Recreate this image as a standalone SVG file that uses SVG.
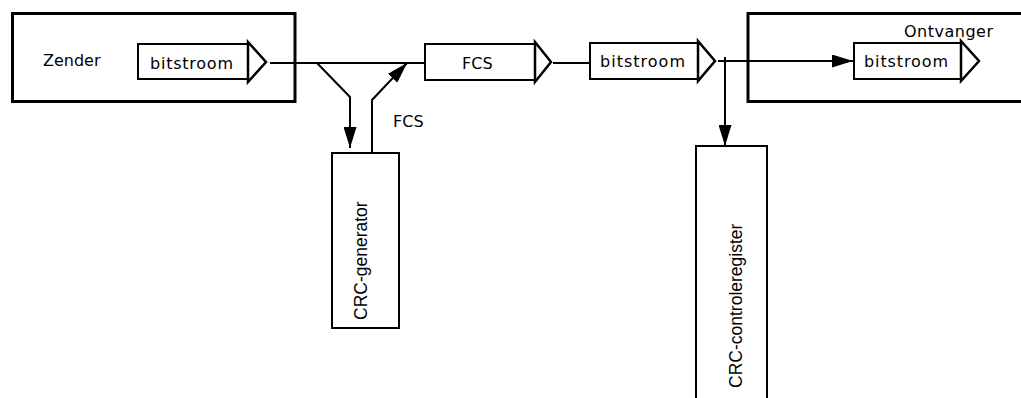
<svg xmlns="http://www.w3.org/2000/svg" width="1021" height="398" viewBox="0 0 1021 398">
  <style>
    .frame { fill: #fff; stroke: #000; stroke-width: 3; }
    .box { fill: #fff; stroke: #000; stroke-width: 2; }
    .chev { fill: #fff; stroke: #000; stroke-width: 2.5; stroke-linejoin: miter; }
    .wire { fill: none; stroke: #000; stroke-width: 2; }
    .lbl { font-family: "DejaVu Sans", Verdana, sans-serif; font-size: 16px; fill: #000; }
    .vlbl { font-family: "Liberation Sans", Arial, sans-serif; font-size: 17.5px; fill: #000; }
  </style>
  <defs>
    <marker id="arrow" viewBox="0 0 21 13" refX="21" refY="6.5" markerWidth="21" markerHeight="13" markerUnits="userSpaceOnUse" orient="auto">
      <path d="M0,0 L21,6.5 L0,13 Z" fill="#000"/>
    </marker>
  </defs>

  <rect width="1021" height="398" fill="#fff"/>

  <!-- sender -->
  <g id="zender">
    <rect class="frame" x="12.5" y="13.5" width="282.5" height="88"/>
    <text class="lbl" x="43" y="66">Zender</text>
    <g id="zender-bitstroom">
      <rect class="box" x="138" y="44" width="110" height="35"/>
      <polygon class="chev" points="248,42 266,62 248,82"/>
      <text class="lbl" x="150" y="69" textLength="83" lengthAdjust="spacing">bitstroom</text>
    </g>
  </g>

  <!-- receiver (frame runs off the right edge) -->
  <g id="ontvanger">
    <rect class="frame" x="748" y="13.5" width="290" height="88"/>
    <text class="lbl" x="904" y="37" textLength="89" lengthAdjust="spacing">Ontvanger</text>
    <g id="ontvanger-bitstroom">
      <rect class="box" x="854" y="43" width="107" height="36"/>
      <polygon class="chev" points="961,41 979,61 961,81"/>
      <text class="lbl" x="864" y="67" textLength="84" lengthAdjust="spacing">bitstroom</text>
    </g>
  </g>

  <g id="fcs">
    <rect class="box" x="425" y="44" width="110" height="36"/>
    <polygon class="chev" points="535,42 551,62 535,82"/>
    <text class="lbl" x="462" y="69">FCS</text>
  </g>

  <g id="bitstroom">
    <rect class="box" x="590" y="43" width="108" height="36"/>
    <polygon class="chev" points="698,41 715,61 698,81"/>
    <text class="lbl" x="600" y="67" textLength="85" lengthAdjust="spacing">bitstroom</text>
  </g>

  <g id="crc-generator">
    <rect class="box" x="332" y="153" width="67" height="175"/>
    <text class="vlbl" transform="translate(367,320) rotate(-90)">CRC-generator</text>
  </g>

  <g id="crc-controleregister">
    <rect class="box" x="696" y="146" width="71" height="262"/>
    <text class="vlbl" transform="translate(742,388) rotate(-90)">CRC-controleregister</text>
  </g>

  <text id="fcs-label" class="lbl" x="393" y="127">FCS</text>

  <!-- connectors -->
  <g id="connectors">
    <path class="wire" d="M270,63 H425"/>
    <path class="wire" d="M317,63 L350,97 V148" marker-end="url(#arrow)"/>
    <path class="wire" d="M372,153 V100 L407,63" marker-end="url(#arrow)"/>
    <path class="wire" d="M553,63 H590"/>
    <path class="wire" d="M718,61 H853" marker-end="url(#arrow)"/>
    <path class="wire" d="M725,57 V146" marker-end="url(#arrow)"/>
  </g>
</svg>
